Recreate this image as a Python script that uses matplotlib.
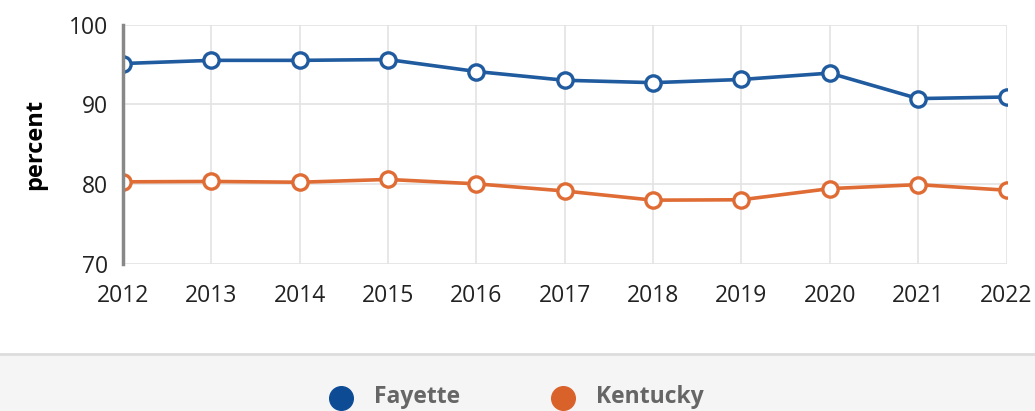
import matplotlib.pyplot as plt
from matplotlib.patches import Rectangle
from matplotlib.lines import Line2D

plt.rcParams['font.family'] = ['Open Sans', 'DejaVu Sans']

years = [2012, 2013, 2014, 2015, 2016, 2017, 2018, 2019, 2020, 2021, 2022]
fayette = [95.1, 95.5, 95.5, 95.6, 94.1, 93.0, 92.7, 93.1, 93.9, 90.7, 90.9]
kentucky = [80.25, 80.3, 80.2, 80.55, 80.0, 79.1, 77.95, 78.0, 79.4, 79.9, 79.2]
y_ticks = [70, 80, 90, 100]

blue = '#1f5b9e'
orange = '#e06c35'

fig = plt.figure(figsize=(10.35, 4.11), dpi=100)
ax = fig.add_axes([123 / 1035, 1 - 263.5 / 411, (1006.5 - 123) / 1035, (263.5 - 24.5) / 411])

ax.plot(years, fayette, color=blue, lw=2.6, marker='o', ms=11, mfc='white', mec=blue, mew=2.4, zorder=3)
ax.plot(years, kentucky, color=orange, lw=2.6, marker='o', ms=11, mfc='white', mec=orange, mew=2.4, zorder=3)

ax.set_xlim(2012, 2022)
ax.set_ylim(70, 100)
ax.set_xticks(years)
ax.set_yticks(y_ticks)
ax.grid(True, color='#e3e3e3', lw=1.2)
ax.set_axisbelow(True)
for s in ['top', 'right', 'bottom']:
    ax.spines[s].set_visible(False)
ax.spines['left'].set_color('#888888')
ax.spines['left'].set_linewidth(2.5)
ax.spines['left'].set_zorder(5)
ax.tick_params(length=0, labelsize=16.5, colors='#222222')
ax.tick_params(axis='x', pad=15)
ax.tick_params(axis='y', pad=11)
ax.set_ylabel('percent', fontsize=17, fontweight='bold', labelpad=0)
ax.yaxis.set_label_coords(-(123 - 47) / (1006.5 - 123), 0.5)

# legend strip at the bottom
fig.patches.append(Rectangle((0, 0), 1, 57 / 411, transform=fig.transFigure,
                             facecolor='#f5f5f5', edgecolor='none', zorder=0))
fig.add_artist(Line2D([0, 1], [57 / 411, 57 / 411], transform=fig.transFigure,
                      color='#dddddd', lw=2))
leg_items = [('Fayette', '#0d4c95', 341), ('Kentucky', '#d9622b', 563)]
for name, col, x in leg_items:
    fig.add_artist(Line2D([x / 1035], [1 - 398 / 411], transform=fig.transFigure,
                          marker='o', ms=17, color=col, mec=col, lw=0))
    fig.text((x + 33) / 1035, 1 - 397 / 411, name, fontsize=16.5, fontweight='bold',
             color='#666666', va='center', ha='left')

fig.savefig('out.png', dpi=100)
